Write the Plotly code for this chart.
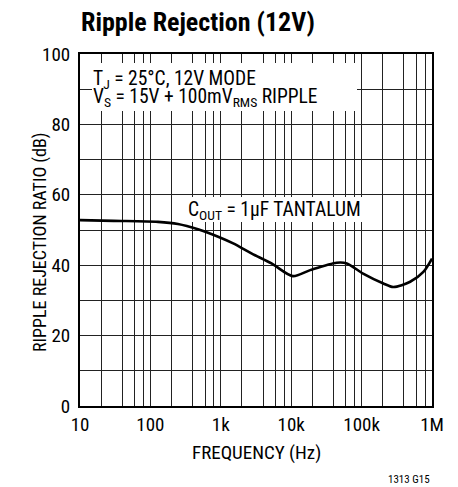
import plotly.graph_objects as go

# Data
freq_hz = [10, 30, 128, 246, 474, 917, 1500, 2760, 5250, 10500, 18600,
           44200, 61700, 105000, 204000, 282000, 490000, 754000, 1000000]
rejection_db = [52.8, 52.6, 52.3, 51.7, 50.2, 48.1, 46.2, 43.3, 40.5, 36.9, 38.6,
                40.7, 40.5, 37.6, 34.8, 33.8, 35.3, 38.1, 41.9]

x_grid = [m * 10 ** d for d in range(1, 6) for m in (1, 2, 4, 6, 8)] + [1000000]
x_labels = {10: "10", 100: "100", 1000: "1k", 10000: "10k", 100000: "100k", 1000000: "1M"}
y_grid = list(range(0, 101, 10))
y_labels = {0: "0", 20: "20", 40: "40", 60: "60", 80: "80", 100: "100"}

FONT = "Liberation Sans Narrow, Roboto Condensed, Liberation Sans, Arial"

L, T, R, B = 80, 54, 432, 406  # plot area pixels
PW, PH = R - L, B - T


def px(x):
    return (x - L) / PW


def py(y):
    return (B - y) / PH


fig = go.Figure()
fig.add_trace(go.Scatter(x=freq_hz, y=rejection_db, mode="lines",
                         line=dict(color="black", width=2.6, shape="spline", smoothing=0.8),
                         showlegend=False, hoverinfo="skip"))

fig.update_layout(
    width=458, height=487,
    margin=dict(l=L, r=458 - R, t=T, b=487 - B, autoexpand=False),
    paper_bgcolor="white", plot_bgcolor="white",
    font=dict(family=FONT, color="black", size=19),
)
fig.update_xaxes(type="log", range=[1, 6],
                 tickvals=x_grid, ticktext=[x_labels.get(v, "") for v in x_grid],
                 showgrid=True, gridcolor="#222", gridwidth=1,
                 showline=True, linecolor="black", linewidth=2, mirror=True,
                 ticks="", tickfont=dict(size=19), zeroline=False)
fig.update_yaxes(range=[0, 100],
                 tickvals=y_grid, ticktext=[y_labels.get(v, "") for v in y_grid],
                 showgrid=True, gridcolor="#222", gridwidth=1,
                 showline=True, linecolor="black", linewidth=2, mirror=True,
                 ticks="", ticklabelstandoff=4, tickfont=dict(size=19), zeroline=False)

# titles
fig.add_annotation(xref="paper", yref="paper", x=px(79), y=py(22), xanchor="left", yanchor="middle",
                   showarrow=False, text="<b>Ripple Rejection (12V)</b>", font=dict(size=26))
fig.add_annotation(xref="paper", yref="paper", x=px(256), y=py(452), xanchor="center", yanchor="middle",
                   showarrow=False, text="FREQUENCY (Hz)", font=dict(size=19))
fig.add_annotation(xref="paper", yref="paper", x=px(40), y=py(243), xanchor="center", yanchor="middle",
                   showarrow=False, text="RIPPLE REJECTION RATIO (dB)", textangle=-90, font=dict(size=18))

# white boxes behind annotations
fig.add_shape(type="rect", xref="paper", yref="paper",
              x0=px(92), x1=px(357), y0=py(111), y1=py(63),
              fillcolor="white", line=dict(width=0), layer="above")
fig.add_shape(type="rect", xref="paper", yref="paper",
              x0=px(181), x1=px(367), y0=py(222), y1=py(197),
              fillcolor="white", line=dict(width=0), layer="above")

fig.add_annotation(xref="paper", yref="paper", x=px(92), y=py(66),
                   xanchor="left", yanchor="top", align="left", showarrow=False, borderpad=0,
                   text="T<sub>J</sub> = 25°C, 12V MODE", font=dict(size=19.5))
fig.add_annotation(xref="paper", yref="paper", x=px(92), y=py(111),
                   xanchor="left", yanchor="bottom", align="left", showarrow=False, borderpad=0,
                   text="V<sub>S</sub> = 15V + 100mV<sub>RMS</sub> RIPPLE", font=dict(size=19.5))
fig.add_annotation(xref="paper", yref="paper", x=px(186), y=py(210),
                   xanchor="left", yanchor="middle", showarrow=False,
                   text="C<sub>OUT</sub> = 1µF TANTALUM", font=dict(size=19.5))
fig.add_annotation(xref="paper", yref="paper", x=px(432), y=py(479),
                   xanchor="right", yanchor="middle", showarrow=False,
                   text="1313 G15", font=dict(size=11))

fig.write_html("out.html", config={"displayModeBar": False},
               post_script="document.body.style.margin='0px';")
